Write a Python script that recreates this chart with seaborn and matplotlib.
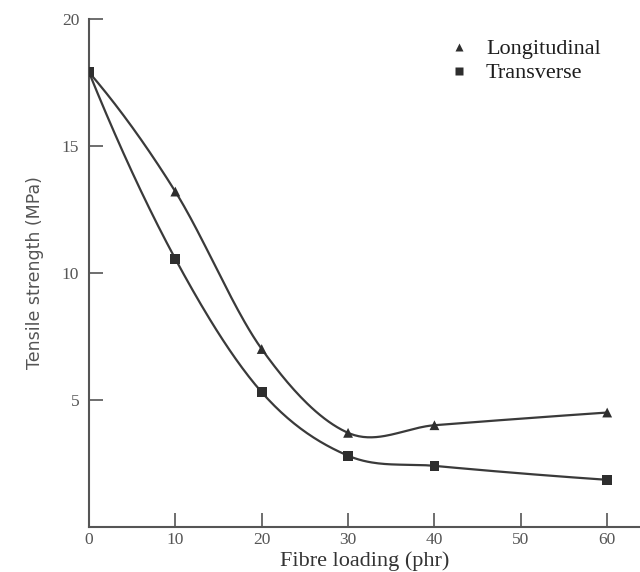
import numpy as np
import pandas as pd
import matplotlib
matplotlib.use("Agg")
import matplotlib.pyplot as plt
import seaborn as sns

# Data
fibre_loading = [0, 10, 20, 30, 40, 60]
longitudinal = [17.9, 13.2, 7.0, 3.7, 4.0, 4.5]
transverse = [17.9, 10.55, 5.3, 2.8, 2.4, 1.85]
x_ticks = [0, 10, 20, 30, 40, 50, 60]
y_ticks = [5, 10, 15, 20]


def smooth(x, y, n=40):
    # cubic hermite curve through the points (for drawing the hand-drawn style line)
    x = np.asarray(x, float)
    y = np.asarray(y, float)
    m = np.zeros_like(y)
    m[1:-1] = (y[2:] - y[:-2]) / (x[2:] - x[:-2])
    m[0] = 2 * (y[1] - y[0]) / (x[1] - x[0]) - m[1]
    m[-1] = 2 * (y[-1] - y[-2]) / (x[-1] - x[-2]) - m[-2]
    xs, ys = [], []
    for i in range(len(x) - 1):
        h = x[i + 1] - x[i]
        t = np.linspace(0, 1, n, endpoint=False)
        h00 = 2 * t**3 - 3 * t**2 + 1
        h10 = t**3 - 2 * t**2 + t
        h01 = -2 * t**3 + 3 * t**2
        h11 = t**3 - t**2
        xs.append(x[i] + t * h)
        ys.append(h00 * y[i] + h10 * h * m[i] + h01 * y[i + 1] + h11 * h * m[i + 1])
    xs.append([x[-1]])
    ys.append([y[-1]])
    return np.concatenate(xs), np.concatenate(ys)


sns.set_style("ticks")
plt.rcParams['font.family'] = ['Liberation Serif', 'DejaVu Serif']

fig = plt.figure(figsize=(6.4, 5.72), dpi=100)
ax = fig.add_axes([0.139, 0.079, 0.861, 0.888])

line_color = '#3a3a3a'
for name, vals in [('Longitudinal', longitudinal), ('Transverse', transverse)]:
    sx, sy = smooth(fibre_loading, vals)
    curve = pd.DataFrame({'x': sx, 'y': sy})
    sns.lineplot(data=curve, x='x', y='y', ax=ax, color=line_color, lw=1.6, sort=False)

points = pd.DataFrame({
    'x': fibre_loading * 2,
    'y': longitudinal + transverse,
    'series': ['Longitudinal'] * len(fibre_loading) + ['Transverse'] * len(fibre_loading),
})
sns.scatterplot(data=points, x='x', y='y', style='series', markers={'Longitudinal': '^', 'Transverse': 's'},
                color='#2e2e2e', s=50, edgecolor='none', ax=ax, zorder=5)

ax.set_xlim(0, 63.8)
ax.set_ylim(0, 20)
ax.set_xticks(x_ticks)
ax.set_yticks(y_ticks)
ax.tick_params(axis='both', direction='in', length=10, width=1.2, color='#555555',
               labelsize=12.5, labelcolor='#555555')
ax.tick_params(axis='x', pad=4)
ax.tick_params(axis='y', pad=7)
sns.despine(ax=ax)
for side in ['left', 'bottom']:
    ax.spines[side].set_color('#555555')
    ax.spines[side].set_linewidth(1.5)

ax.set_xlabel('Fibre loading (phr)', fontsize=16, color='#333333', labelpad=2)
ax.set_ylabel('Tensile strength (MPa)', fontsize=12.5, color='#555555', labelpad=13,
              family='DejaVu Sans')

handles, labels = ax.get_legend_handles_labels()
leg = ax.legend(handles, labels, loc='upper right', bbox_to_anchor=(0.965, 1.0), frameon=False,
                fontsize=16, handletextpad=0.4, handlelength=1.6, labelspacing=0.15, markerscale=0.8)
for t in leg.get_texts():
    t.set_color('#1e1e1e')

fig.savefig('out.png', dpi=100)
